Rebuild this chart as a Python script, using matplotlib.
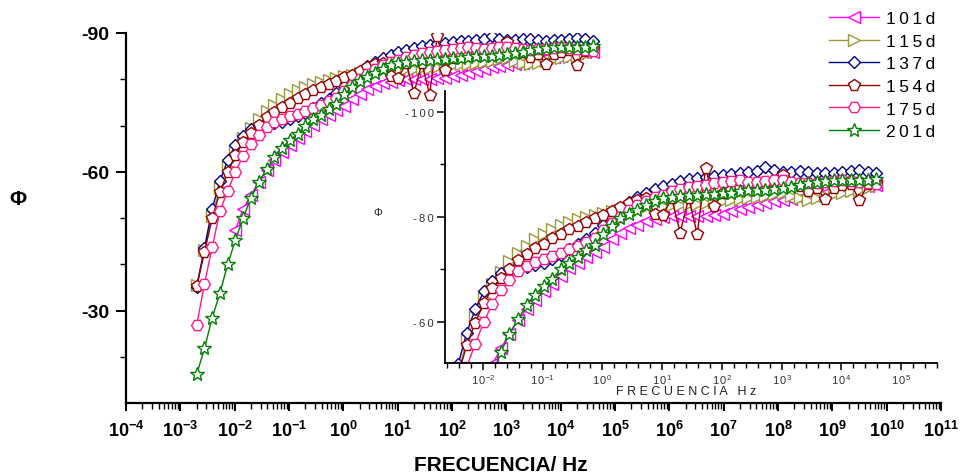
import numpy as np
import matplotlib
matplotlib.use('Agg')
import matplotlib.pyplot as plt
from matplotlib.ticker import FixedLocator, FuncFormatter, LogLocator, NullFormatter

plt.rcParams['font.family'] = ['Liberation Sans', 'DejaVu Sans']
plt.rcParams['axes.unicode_minus'] = False
plt.rcParams['mathtext.fontset'] = 'custom'
plt.rcParams['mathtext.rm'] = 'Liberation Sans'
plt.rcParams['mathtext.bf'] = 'Liberation Sans:bold'

nan = np.nan

# measurement frequencies (Hz), 7 points per decade
freq = [0.002, 0.00278, 0.00386, 0.00536, 0.00745, 0.01035, 0.01438,
        0.02, 0.0278, 0.0386, 0.0536, 0.0745, 0.1035, 0.1438,
        0.2, 0.278, 0.386, 0.536, 0.745, 1.035, 1.438,
        2.0, 2.78, 3.86, 5.36, 7.45, 10.35, 14.38,
        20.0, 27.8, 38.6, 53.6, 74.5, 103.5, 143.8,
        200.0, 278.0, 386.0, 536.0, 745.0, 1035.0, 1438.0,
        2000.0, 2780.0, 3860.0, 5360.0, 7450.0, 10350.0, 14380.0,
        20000.0, 27800.0, 38600.0]

labels = ['101d', '115d', '137d', '154d', '175d', '201d']

phi_101 = [nan, nan, nan, nan, nan, -47.5, -52.0, -55.0, -57.8, -60.3, -62.5, -64.2, -65.8,
           -67.3, -68.8, -70.2, -71.3, -72.3, -73.3, -74.3, -75.7, -76.9, -77.8, -78.5, -79.1,
           -79.5, -79.9, -80.1, -80.1, -80.1, -80.1, -80.2, -80.3, -80.6, -81.0, -81.4, -81.8,
           -82.2, -82.6, -82.9, -83.1, -83.3, -83.6, -83.9, -84.2, -84.5, -84.8, -85.1, -85.3,
           -85.6, -85.8, -86.0]
phi_115 = [-35.5, -43.0, -50.5, -56.5, -61.0, -64.5, -67.3, -69.5, -71.5, -73.2, -74.5, -75.7,
           -76.8, -77.7, -78.4, -79.0, -79.5, -79.9, -80.3, -80.7, -81.0, -81.3, -81.5, -81.7,
           -81.9, -82.0, -82.1, -82.2, -82.3, -82.4, -82.5, -82.6, -82.8, -83.0, -83.2, -83.4,
           -83.6, -83.8, -84.0, -84.3, -84.6, -84.0, -83.5, -83.2, -83.5, -84.0, -84.3, -84.6,
           -84.8, -85.1, -85.4, -85.8]
phi_137 = [-35.0, -43.5, -52.0, -58.0, -62.5, -65.8, -67.8, -69.3, -70.0, -70.3, -70.5, -70.8,
           -71.3, -72.0, -72.8, -73.8, -74.8, -75.8, -77.0, -78.5, -80.0, -81.5, -82.8, -83.8,
           -84.6, -85.2, -85.8, -86.3, -86.8, -87.1, -87.4, -87.6, -87.8, -88.0, -88.2, -88.3,
           -88.5, -88.7, -89.4, -88.8, -88.5, -88.5, -88.7, -88.6, -88.4, -88.3, -88.4, -88.5,
           -88.7, -88.9, -88.6, -88.3]
phi_154 = [-35.3, -42.6, -50.0, -55.6, -59.9, -63.6, -66.4, -68.4, -70.1, -71.8, -72.9, -74.0,
           -74.9, -75.9, -76.8, -77.6, -78.3, -79.0, -79.7, -80.4, -81.0, -81.8, -82.6, -83.2,
           -83.6, -80.6, -80.3, -83.5, -77.0, -83.5, -76.7, -89.3, -82.1, -84.5, -85.0, -85.5,
           -85.8, -86.0, -86.3, -86.8, -88.0, -86.5, -85.8, -84.9, -85.5, -83.3, -85.5, -86.0,
           -86.3, -83.1, -86.2, -86.5]
phi_175 = [-26.8, -35.8, -43.7, -51.5, -55.9, -60.0, -63.5, -66.0, -68.0, -69.6, -70.7, -71.4,
           -72.0, -72.5, -73.2, -73.8, -74.5, -75.2, -76.0, -77.5, -78.8, -80.0, -81.2, -82.2,
           -83.0, -83.7, -84.2, -84.8, -85.3, -85.6, -85.8, -86.1, -86.4, -86.6, -86.8, -86.9,
           -86.7, -86.6, -86.8, -87.0, -86.9, -86.7, -86.5, -86.4, -86.5, -86.6, -86.8, -86.9,
           -86.8, -86.6, -86.4, -86.2]
phi_201 = [-16.2, -21.8, -28.4, -33.8, -40.0, -45.3, -50.1, -54.3, -57.8, -60.5, -63.2, -65.2,
           -66.8, -68.2, -70.0, -71.3, -72.3, -73.6, -74.7, -76.8, -78.3, -79.7, -80.5, -81.3,
           -82.2, -83.0, -83.5, -83.8, -84.0, -84.1, -84.2, -84.3, -84.4, -84.5, -84.6, -84.8,
           -85.0, -85.0, -85.1, -85.2, -85.4, -85.7, -86.0, -86.4, -86.6, -86.8, -86.9, -86.9,
           -87.0, -87.0, -87.0, -87.1]

series = [phi_101, phi_115, phi_137, phi_154, phi_175, phi_201]
colors = ['#FF00FF', '#9A9A3A', '#00008B', '#990000', '#FF1A8C', '#008000']
markers = ['<', '>', 'D', 'p', 'H', '*']
msizes = [8, 8, 6.5, 8.5, 8.5, 10]


def spaced(s):
    return '\u2009'.join(s)


def draw(ax):
    for y, c, m, ms, lab in zip(series, colors, markers, msizes, labels):
        ax.plot(freq, y, color=c, lw=1.0, marker=m, ms=ms, mfc='white', mec=c, mew=1.0,
                label=spaced(lab))


fig = plt.figure(figsize=(9.61, 4.77), dpi=100)

# main plot
ax = fig.add_axes([126/961, 1-404/477, (941-126)/961, (404-34)/477])
draw(ax)
ax.set_xscale('log')
ax.set_xlim(1e-4, 1e11)
ax.set_ylim(-10, -90)
for s in ['top', 'right']:
    ax.spines[s].set_visible(False)
for s in ['left', 'bottom']:
    ax.spines[s].set_linewidth(1.6)
ax.xaxis.set_major_locator(FixedLocator([10.0**e for e in range(-4, 12)]))
ax.xaxis.set_minor_locator(LogLocator(base=10, subs=np.arange(2, 10), numticks=100))
ax.xaxis.set_minor_formatter(NullFormatter())
ax.xaxis.set_major_formatter(FuncFormatter(
    lambda v, p: r'$\mathbf{10^{%d}}$' % int(round(np.log10(v)))))
ax.yaxis.set_major_locator(FixedLocator([-90, -60, -30]))
ax.yaxis.set_minor_locator(FixedLocator([-80, -70, -50, -40, -20]))
ax.tick_params(which='major', direction='out', length=7, width=1.4, labelsize=13, pad=5)
ax.tick_params(which='minor', direction='out', length=4, width=1.0)
ax.tick_params(axis='x', which='major', length=6, pad=6)
ax.tick_params(axis='y', which='major', labelsize=14)
for t in ax.get_yticklabels():
    t.set_fontweight('bold')

fig.text(501/961, 1-466/477, 'FRECUENCIA/ Hz', ha='center', va='center',
         fontsize=15, fontweight='bold')
fig.text(18/961, 1-200/477, '\u03a6', ha='center', va='center',
         fontsize=15, fontweight='bold')

# inset
ins = fig.add_axes([444.7/961, 1-363.5/477, (937-444.7)/961, (363.5-92)/477])
ins.patch.set_visible(False)
draw(ins)
ins.set_xscale('log')
ins.set_xlim(10**-2.64, 10**5.6)
ins.set_ylim(-52.3, -103.9)
for s in ['top', 'right']:
    ins.spines[s].set_visible(False)
for s in ['left', 'bottom']:
    ins.spines[s].set_linewidth(1.3)
ins.xaxis.set_major_locator(FixedLocator([10.0**e for e in range(-2, 6)]))
minor_pos = [10.0**(d + f) for d in range(-3, 6) for f in (0.2, 0.4, 0.6, 0.8)]
ins.xaxis.set_minor_locator(FixedLocator(minor_pos))
ins.xaxis.set_minor_formatter(NullFormatter())
ins.xaxis.set_major_formatter(FuncFormatter(
    lambda v, p: r'$\mathregular{1\,0^{%d}}$' % int(round(np.log10(v)))))
ins.yaxis.set_major_locator(FixedLocator([-100, -80, -60]))
ins.yaxis.set_minor_locator(FixedLocator([-90, -70]))
ins.yaxis.set_major_formatter(FuncFormatter(lambda v, p: spaced('%d' % v)))
ins.tick_params(which='major', direction='out', length=6, width=1.1, labelsize=8,
                pad=2, labelcolor='#333333')
ins.tick_params(which='minor', direction='out', length=3.5, width=1.0)
ins.tick_params(axis='x', which='major', length=5)
fig.text(686/961, 1-392/477, ' '.join('FRECUENCIA') + '   H z', ha='center', va='center',
         fontsize=9, color='#222222')
fig.text(378/961, 1-213/477, '\u03a6', ha='center', va='center', fontsize=8, color='#222222')

handles, labs = ax.get_legend_handles_labels()
fig.legend(handles, labs, loc='upper left', bbox_to_anchor=(822/961, 1-5/477),
           frameon=False, numpoints=1, handlelength=2.9, handletextpad=0.4,
           labelspacing=0.43, fontsize=12.5, borderaxespad=0)

fig.savefig('out.png', dpi=100)
